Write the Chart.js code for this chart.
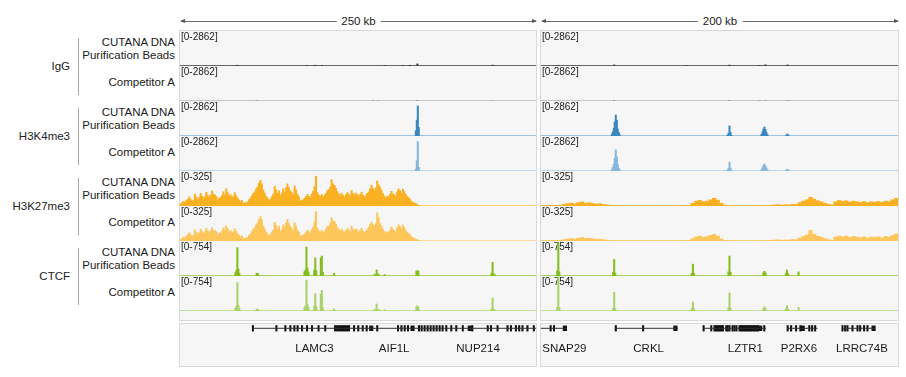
<!DOCTYPE html>
<html lang="en">
<head>
<meta charset="utf-8">
<title>CUTANA DNA Purification Beads vs Competitor A</title>
<script src="https://cdn.jsdelivr.net/npm/chart.js@4.4.1/dist/chart.umd.min.js"></script>
<style>
  html, body { margin: 0; padding: 0; background: #fff; }
  body { position: relative; width: 906px; height: 377px; overflow: hidden;
         font-family: "Liberation Sans", Arial, Helvetica, sans-serif; color: #1a1a1a; }
  .box { position: absolute; box-sizing: border-box; background: #f6f6f6; border: 1px solid #d8d8d8; }
  .cv { position: absolute; display: block; }
  .sample { position: absolute; right: 731px; font-size: 11.5px; line-height: 13.4px; text-align: right; white-space: nowrap; }
  .group { position: absolute; right: 836px; font-size: 11.5px; line-height: 14px; white-space: nowrap; color: #222; }
  .gbar { position: absolute; left: 77.5px; width: 1.6px; background: #a9a9a9; }
  .ruler { position: absolute; top: 20.5px; height: 1px; background: #6b6b6b; }
  .ruler::before, .ruler::after { content: ""; position: absolute; top: -2px; width: 0; height: 0;
         border-top: 2.5px solid transparent; border-bottom: 2.5px solid transparent; }
  .ruler::before { left: -1px; border-right: 5px solid #555; }
  .ruler::after { right: -1px; border-left: 5px solid #555; }
  .ruler span { position: absolute; left: 50%; top: -7px; transform: translateX(-50%); background: #fff;
         padding: 0 5px; font-size: 11.5px; line-height: 14px; white-space: nowrap; }
</style>
</head>
<body>
<script>
/* ============================================
   Data (kb along each region, signal in track units)
   ============================================ */
const groups = ['IgG', 'H3K4me3', 'H3K27me3', 'CTCF'];
const sampleLines = [['CUTANA DNA', 'Purification Beads'], ['Competitor A']];
const trackMax = [2862, 2862, 325, 754];
const regionKb = [250, 200];
const regionLabels = ['250 kb', '200 kb'];
const k27BinKb = [1, 2];   // bin width left / right

// IgG
const iggLCutPos = [40.3, 89.2, 95.0, 99.6, 143.8, 156.6, 161.3, 166.7, 219.5];
const iggLCutVal = [60, 55, 60, 55, 45, 50, 60, 170, 70];
const iggLCmpPos = [53.8, 135.7, 139.2, 166.7, 219.5];
const iggLCmpVal = [45, 35, 35, 60, 40];
const iggRCutPos = [9.7, 41.0, 81.4, 105.6, 122.4, 125.7, 138.2];
const iggRCutVal = [60, 90, 40, 80, 50, 100, 90];
const iggRCmpPos = [9.7, 41.0, 105.6, 122.4, 125.7, 138.2];
const iggRCmpVal = [40, 50, 50, 30, 40, 50];

// H3K4me3
const k4LPos = [165.6, 166.3, 167.0, 167.7];
const k4LCutVal = [430, 1300, 2460, 700];
const k4LCmpVal = [150, 850, 2400, 300];
const k4RPos = [39.7, 40.2, 40.8, 41.3, 41.9, 42.5, 43.0, 43.6, 44.1,
                104.4, 105.0, 105.6, 106.2, 106.7,
                123.5, 124.1, 124.6, 125.2, 125.8, 126.3, 126.9,
                137.4, 138.0, 138.6];
const k4RCutVal = [140, 340, 630, 1150, 1720, 1290, 570, 290, 110,
                   60, 230, 830, 290, 60,
                   140, 340, 570, 740, 520, 290, 110,
                   80, 170, 80];
const k4RCmpVal = [110, 290, 570, 1050, 1720, 1150, 520, 230, 90,
                   50, 200, 720, 230, 50,
                   110, 260, 460, 570, 400, 230, 90,
                   60, 140, 60];

// H3K27me3, left in 1 kb bins, right in 2 kb bins
const k27LCut = [20, 31, 44, 33, 52, 66, 85, 60, 42, 55, 110, 84, 63, 80, 118, 92, 74, 88, 128, 99,
                 82, 101, 140, 108, 104, 88, 58, 72, 79, 97, 132, 102, 160, 125, 90, 106, 78, 93, 123, 96,
                 72, 57, 40, 51, 22, 30, 29, 38, 58, 74, 96, 118, 132, 161, 178, 214, 238, 205, 150, 120,
                 90, 72, 52, 64, 88, 110, 182, 152, 118, 141, 97, 117, 160, 131, 170, 206, 168, 142, 124, 103,
                 185, 150, 108, 86, 44, 55, 58, 73, 88, 108, 90, 72, 112, 137, 180, 276, 125, 102, 90, 106,
                 83, 100, 118, 143, 150, 176, 244, 205, 192, 164, 134, 112, 97, 118, 100, 82, 104, 125, 108, 88,
                 143, 117, 100, 121, 108, 88, 106, 128, 100, 82, 97, 118, 132, 160, 192, 164, 142, 170, 232, 196,
                 176, 150, 114, 94, 74, 89, 88, 108, 136, 112, 106, 90, 132, 160, 142, 118, 158, 134, 108, 88,
                 78, 64, 44, 33, 28, 22, 14, 8];
const k27LCmp = [16, 24, 38, 28, 46, 58, 76, 55, 40, 52, 102, 80, 60, 76, 110, 86, 70, 86, 116, 92,
                 76, 94, 124, 98, 98, 84, 55, 69, 76, 94, 122, 98, 140, 114, 84, 98, 72, 85, 112, 90,
                 65, 53, 37, 47, 20, 26, 26, 34, 52, 66, 88, 108, 124, 150, 170, 200, 226, 196, 136, 112,
                 83, 67, 49, 61, 82, 100, 172, 146, 113, 135, 89, 107, 150, 124, 168, 200, 162, 138, 116, 98,
                 170, 142, 100, 82, 41, 51, 53, 65, 82, 100, 86, 70, 106, 128, 176, 272, 118, 96, 84, 98,
                 77, 93, 112, 136, 138, 162, 214, 186, 182, 156, 126, 108, 92, 110, 93, 77, 98, 116, 100, 82,
                 136, 112, 95, 113, 100, 82, 100, 120, 93, 77, 89, 107, 127, 153, 176, 150, 138, 162, 262, 214,
                 162, 138, 107, 89, 71, 85, 82, 100, 128, 106, 98, 84, 124, 150, 135, 113, 148, 126, 100, 82,
                 70, 58, 40, 31, 25, 19, 12, 7];
const k27RCut = [5, 4, 6, 5, 6, 8, 16, 22, 28, 20, 32, 38, 26, 30, 24, 18, 22, 14, 10, 6,
                 4, 3, 3, 2, 3, 2, 2, 3, 2, 2, 3, 2, 2, 3, 2, 3, 2, 2, 3, 3,
                 4, 6, 26, 45, 52, 39, 45, 58, 72, 55, 26, 8, 4, 3, 3, 2, 2, 3, 2, 2,
                 3, 4, 3, 5, 6, 10, 13, 8, 12, 10, 16, 14, 32, 45, 58, 81, 65, 49, 39, 26,
                 16, 10, 39, 52, 42, 49, 36, 45, 39, 33, 42, 29, 39, 36, 42, 33, 45, 39, 58, 72];
const k27RCmp = [4, 3, 5, 4, 5, 6, 13, 18, 24, 17, 27, 33, 22, 26, 20, 15, 18, 12, 8, 5,
                 3, 2, 2, 2, 3, 2, 2, 2, 2, 2, 3, 2, 2, 2, 2, 3, 2, 2, 2, 3,
                 3, 5, 22, 39, 46, 33, 42, 52, 62, 46, 20, 6, 3, 2, 2, 2, 2, 2, 2, 2,
                 2, 3, 3, 4, 5, 9, 11, 7, 10, 9, 14, 12, 29, 42, 55, 98, 62, 45, 36, 23,
                 13, 8, 36, 46, 39, 45, 33, 42, 36, 29, 39, 26, 36, 33, 39, 29, 42, 36, 52, 65];

// CTCF
const ctcfLPos = [38.9, 39.6, 40.3, 41.0, 41.7, 53.8, 54.7, 87.4, 88.1, 88.8, 89.5, 90.2,
                  94.3, 95.0, 95.7, 98.9, 99.6, 100.3, 108.2, 136.7, 138.1, 139.5, 143.8,
                  166.0, 166.7, 167.4, 218.8, 219.5, 220.2, 220.9];
const ctcfLCutVal = [75, 120, 610, 150, 60, 60, 55, 90, 130, 625, 170, 90,
                     130, 390, 110, 390, 430, 80, 60, 40, 130, 40, 30,
                     110, 115, 100, 60, 295, 50, 30];
const ctcfLCmpVal = [60, 100, 610, 120, 50, 40, 40, 70, 110, 665, 140, 70,
                     110, 370, 90, 360, 445, 70, 45, 35, 150, 35, 25,
                     90, 110, 80, 45, 280, 40, 25];
const ctcfRPos = [9.1, 9.7, 10.3, 40.4, 41.0, 41.6, 84.5, 85.1, 85.7, 105.0, 105.6, 106.2,
                  124.6, 125.2, 125.8, 137.2, 137.8, 138.4, 144.3];
const ctcfRCutVal = [110, 720, 90, 80, 355, 60, 60, 255, 60, 90, 430, 80, 70, 100, 60, 60, 130, 50, 90];
const ctcfRCmpVal = [80, 754, 70, 60, 405, 50, 50, 195, 50, 70, 390, 60, 50, 90, 50, 50, 115, 40, 75];

// Genes, left region
const genesLName = ['LAMC3', 'AIF1L', 'NUP214'];
const genesLStart = [51.2, 135.3, 164.1];
const genesLEnd = [135.3, 164.1, 250];
const genesLExons = [
  [51.2, 67.7, 74.0, 77.5, 80.3, 82.6, 85.7, 89.2, 92.7, 97.3, 102.0, 108.9, 110.3, 111.7, 113.1,
   114.5, 115.9, 117.3, 118.7, 122.2, 125.2, 128.3, 131.1],
  [138.5, 153.1, 155.5, 157.8, 160.1],
  [167.8, 169.7, 171.8, 173.9, 176.0, 178.1, 180.2, 182.3, 184.4, 187.0, 190.5, 194.0, 198.6,
   205.3, 216.1, 218.4, 223.0, 230.0, 232.4, 235.9, 238.2, 240.5, 244.0, 248.5]
];
const genesLBox = [134.3, 163.3, 203.5];
const genesLLabelAt = [94.4, 150.4, 209.3];

// Genes, right region
const genesRName = ['SNAP29', 'CRKL', 'LZTR1', 'P2RX6', 'LRRC74B'];
const genesRStart = [0, 41.3, 91.1, 138.2, 168.9];
const genesREnd = [14.5, 76.7, 126.1, 154.9, 187.2];
const genesRExons = [
  [5.4, 7.3],
  [41.9, 57.2],
  [91.1, 95.4, 97.2, 98.0, 98.8, 99.6, 100.4, 101.2, 101.9, 103.8, 104.6, 105.6, 107.3, 108.4, 109.5,
   111.2, 112.0, 112.8, 113.6, 114.4, 115.2, 116.0, 116.8, 117.6, 118.4, 119.2, 120.0, 120.8, 121.6, 125.1],
  [138.2, 140.1, 142.9, 145.3, 150.3, 151.9, 153.6],
  [168.9, 170.4, 171.7, 174.5, 177.3, 178.8, 181.0, 182.9]
];
const genesRBox = [13.4, 75.3, 122.8, 146.6, 186.3];
const genesRLabelAt = [13.1, 60.3, 114.5, 144.5, 179.8];

/* ============================================
   Layout
   ============================================ */
const trackH = 35;
const tracksTop = 31;
const panels = [{ x: 180, w: 356 }, { x: 541, w: 357 }];
const geneTop = 324, geneH = 42;
const GENE_ROW = 4.3, NAME_ROW = 25.3;

const peaks = (pos, val) => pos.map((x, i) => ({ x, y: val[i] }));
const bins = (vals, w) => vals.map((y, i) => ({ x: (i + 0.5) * w, y }));

const tracks = [
  { g: 0, color: '#3c3c3c', base: '#666666', L: peaks(iggLCutPos, iggLCutVal), R: peaks(iggRCutPos, iggRCutVal) },
  { g: 0, color: '#9a9a9a', base: '#c6c6c6', L: peaks(iggLCmpPos, iggLCmpVal), R: peaks(iggRCmpPos, iggRCmpVal) },
  { g: 1, color: '#3a87c0', base: '#9fc4df', L: peaks(k4LPos, k4LCutVal), R: peaks(k4RPos, k4RCutVal) },
  { g: 1, color: '#86b7dd', base: '#bcd6eb', L: peaks(k4LPos, k4LCmpVal), R: peaks(k4RPos, k4RCmpVal) },
  { g: 2, color: '#fbb021', base: '#f9d17c', L: bins(k27LCut, k27BinKb[0]), R: bins(k27RCut, k27BinKb[1]), binned: true },
  { g: 2, color: '#fdc65a', base: '#fbdc9c', L: bins(k27LCmp, k27BinKb[0]), R: bins(k27RCmp, k27BinKb[1]), binned: true },
  { g: 3, color: '#84bd1c', base: '#a9d16a', L: peaks(ctcfLPos, ctcfLCutVal), R: peaks(ctcfRPos, ctcfRCutVal) },
  { g: 3, color: '#a8d26a', base: '#c3df98', L: peaks(ctcfLPos, ctcfLCmpVal), R: peaks(ctcfRPos, ctcfRCmpVal) }
];

function addEl(tag, cls, css, html) {
  const el = document.createElement(tag);
  if (cls) el.className = cls;
  Object.assign(el.style, css);
  if (html !== undefined) el.innerHTML = html;
  document.body.appendChild(el);
  return el;
}

function addCanvas(x, y, w, h) {
  const c = addEl('canvas', 'cv', { left: x + 'px', top: y + 'px' });
  c.width = w; c.height = h;
  return c;
}

/* ============================================
   Plugins
   ============================================ */
const trackDecor = {
  id: 'trackDecor',
  beforeDatasetsDraw(chart, args, opts) {
    const { ctx, chartArea: a, scales: { y } } = chart;
    ctx.save();
    ctx.strokeStyle = opts.base;
    ctx.lineWidth = 1;
    ctx.beginPath();
    ctx.moveTo(a.left, a.bottom - 0.5);
    ctx.lineTo(a.right, a.bottom - 0.5);
    ctx.stroke();
    ctx.font = '10px "Liberation Sans", Arial, sans-serif';
    ctx.fillStyle = '#222';
    ctx.textBaseline = 'top';
    ctx.fillText(`[${y.min}-${y.max}]`, a.left + 1, a.top + 1.5);
    ctx.restore();
  }
};

const geneNames = {
  id: 'geneNames',
  afterDatasetsDraw(chart, args, opts) {
    const { ctx, scales: { x, y } } = chart;
    ctx.save();
    ctx.font = '11.5px "Liberation Sans", Arial, sans-serif';
    ctx.fillStyle = '#1a1a1a';
    ctx.textAlign = 'center';
    ctx.textBaseline = 'middle';
    opts.names.forEach((n, i) => ctx.fillText(n, x.getPixelForValue(opts.at[i]), y.getPixelForValue(NAME_ROW)));
    ctx.restore();
  }
};

/* ============================================
   Charts
   ============================================ */
function makeTrack(canvas, span, data, max, t) {
  new Chart(canvas, {
    type: 'bar',
    data: {
      datasets: [{
        data,
        backgroundColor: t.color,
        borderWidth: 0,
        grouped: false,
        barPercentage: 1,
        categoryPercentage: 1,
        barThickness: t.binned ? undefined : 1.4
      }]
    },
    options: {
      responsive: false,
      animation: false,
      events: [],
      layout: { padding: 0 },
      plugins: { legend: { display: false }, tooltip: { enabled: false }, trackDecor: { base: t.base } },
      scales: {
        x: { type: 'linear', min: 0, max: span, offset: false, display: false },
        y: { min: 0, max, display: false }
      }
    },
    plugins: [trackDecor]
  });
}

function makeGenes(canvas, span, names, starts, ends, exons, boxes, labelAt) {
  const introns = [];
  names.forEach((n, i) => {
    introns.push({ x: starts[i], y: GENE_ROW }, { x: ends[i], y: GENE_ROW }, { x: ends[i], y: null });
  });
  const exonBars = [];
  exons.forEach(list => list.forEach(x => exonBars.push({ x, y: [GENE_ROW - 2.8, GENE_ROW + 2.8] })));
  const boxBars = boxes.map(x => ({ x, y: [GENE_ROW - 2.4, GENE_ROW + 2.4] }));

  new Chart(canvas, {
    type: 'bar',
    data: {
      datasets: [
        { type: 'line', data: introns, borderColor: '#333', borderWidth: 1, pointRadius: 0, spanGaps: false, fill: false },
        { data: exonBars, backgroundColor: '#111', borderWidth: 0, grouped: false, barThickness: 1.4 },
        { data: boxBars, backgroundColor: '#111', borderWidth: 0, grouped: false, barThickness: 3.5 }
      ]
    },
    options: {
      responsive: false,
      animation: false,
      events: [],
      layout: { padding: 0 },
      plugins: { legend: { display: false }, tooltip: { enabled: false }, geneNames: { names, at: labelAt } },
      scales: {
        x: { type: 'linear', min: 0, max: span, offset: false, display: false },
        y: { min: 0, max: geneH, reverse: true, display: false }
      }
    },
    plugins: [geneNames]
  });
}

/* ============================================
   Build page
   ============================================ */
// scale bars
panels.forEach((p, k) => {
  addEl('div', 'ruler', { left: (p.x + 1) + 'px', width: (p.w - 1) + 'px' }, `<span>${regionLabels[k]}</span>`);
});

// panel frames
panels.forEach(p => {
  addEl('div', 'box', { left: (p.x - 1) + 'px', top: (tracksTop - 1) + 'px', width: (p.w + 2) + 'px', height: (trackH * 8 + 11) + 'px' });
  addEl('div', 'box', { left: (p.x - 1) + 'px', top: (geneTop - 1) + 'px', width: (p.w + 2) + 'px', height: (geneH + 2) + 'px' });
});

// left labels
groups.forEach((name, g) => {
  const mid = tracksTop + trackH * (2 * g + 1);
  addEl('div', 'group', { top: (mid - 7) + 'px' }, name);
  addEl('div', 'gbar', { top: (mid - 28.5) + 'px', height: '57px' });
  const c1 = mid - trackH / 2, c2 = mid + trackH / 2;
  addEl('div', 'sample', { top: (c1 + 0.5 - 13.4) + 'px' }, sampleLines[0].join('<br>'));
  addEl('div', 'sample', { top: (c2 - 0.8 - 6.7) + 'px' }, sampleLines[1][0]);
});

// signal tracks
tracks.forEach((t, i) => {
  const y = tracksTop + i * trackH;
  makeTrack(addCanvas(panels[0].x, y, panels[0].w, trackH), regionKb[0], t.L, trackMax[t.g], t);
  makeTrack(addCanvas(panels[1].x, y, panels[1].w, trackH), regionKb[1], t.R, trackMax[t.g], t);
});

// gene tracks
makeGenes(addCanvas(panels[0].x, geneTop, panels[0].w, geneH), regionKb[0],
  genesLName, genesLStart, genesLEnd, genesLExons, genesLBox, genesLLabelAt);
makeGenes(addCanvas(panels[1].x, geneTop, panels[1].w, geneH), regionKb[1],
  genesRName, genesRStart, genesREnd, genesRExons, genesRBox, genesRLabelAt);
</script>
</body>
</html>
